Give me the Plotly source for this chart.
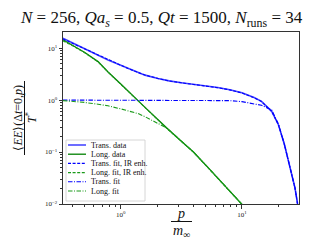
import plotly.graph_objects as go

# ---------------- data ----------------
p_trans = [0.333, 0.398, 0.501, 0.649, 0.785, 1.0, 1.148, 1.39, 1.585, 2.03, 2.51, 3.16,
           3.98, 5.26, 6.31, 7.94, 10.0, 12.6, 14.5, 17.6, 20.0, 22.4, 25.1, 27.4, 28.8]
trans_data = [15.5, 12.6, 9.77, 7.41, 5.89, 4.68, 4.07, 3.39, 3.02, 2.61, 2.34, 2.16,
              2.02, 1.84, 1.74, 1.58, 1.38, 1.12, 0.944, 0.607, 0.336, 0.141, 0.0468, 0.0204, 0.0100]
trans_fit_ir = [15.0, 12.4, 9.70, 7.45, 5.95, 4.70, 4.05, 3.40, 3.03, 2.60, 2.33, 2.15,
                2.01, 1.83, 1.73, 1.57, 1.37, 1.11, 0.940, 0.605, 0.336, 0.141, 0.0468, 0.0204, 0.0100]
trans_fit = [1.0, 1.0, 1.0, 1.0, 1.0, 1.0, 1.0, 1.0, 1.0, 1.0, 1.0, 1.0,
             0.998, 0.995, 0.99, 0.975, 0.933, 0.851, 0.794, 0.646, 0.345, 0.141, 0.0468, 0.0204, 0.0100]

p_long = [0.333, 0.398, 0.501, 0.649, 0.785, 1.0, 1.148, 1.39, 1.585, 2.03, 2.31, 2.51,
          3.16, 3.98, 5.26, 6.31, 7.94, 9.31, 10.0, 11.2]
long_data = [14.5, 11.5, 8.32, 5.50, 3.47, 2.04, 1.48, 0.955, 0.724, 0.417, 0.309, 0.263,
             0.162, 0.100, 0.0501, 0.0316, 0.0178, 0.0120, 0.0100, 0.0074]
long_fit_ir = [13.8, 11.2, 8.20, 5.45, 3.45, 2.03, 1.47, 0.950, 0.720, 0.415, 0.308, 0.262,
               0.161, 0.0995, 0.0500, 0.0315, 0.0178, 0.0120, 0.0100, 0.0074]
long_fit = [0.977, 0.955, 0.902, 0.832, 0.776, 0.676, 0.617, 0.550, 0.479, 0.355, 0.302, 0.263,
            0.162, 0.100, 0.0501, 0.0316, 0.0178, 0.0120, 0.0100, 0.0074]

legend_labels = ["Trans. data", "Long. data", "Trans. fit, IR enh.",
                 "Long. fit, IR enh.", "Trans. fit", "Long. fit"]

x_tickvals = [1, 10]
x_ticktext = ["10<sup>0</sup>", "10<sup>1</sup>"]
y_tickvals = [0.01, 0.1, 1, 10]
y_ticktext = ["10<sup>−2</sup>", "10<sup>−1</sup>", "10<sup>0</sup>", "10<sup>1</sup>"]

title_text = ("<i>N</i> = 256, <i>Qa<sub>s</sub></i> = 0.5, <i>Qt</i> = 1500, "
              "<i>N</i><sub>runs</sub> = 34")

BLUE = "#0000ff"
BLUE_A = "rgba(40,40,255,0.85)"
GREEN = "#008000"
GREEN_L = "#1a9a1a"
DASH = "3px,1.6px"
DASHDOT = "4.5px,1.5px,1px,1.5px"
SERIF = "Liberation Serif"

fig = go.Figure()
series = [
    (p_trans, trans_data, BLUE_A, "solid", 1.6),
    (p_long, long_data, GREEN, "solid", 1.3),
    (p_trans, trans_fit_ir, BLUE, DASH, 1.1),
    (p_long, long_fit_ir, GREEN_L, DASH, 1.1),
    (p_trans, trans_fit, BLUE, DASHDOT, 1.1),
    (p_long, long_fit, GREEN_L, DASHDOT, 1.1),
]
for (xs, ys, col, dash, w), name in zip(series, legend_labels):
    fig.add_trace(go.Scatter(x=xs, y=ys, mode="lines", name=name,
                             line=dict(color=col, dash=dash, width=w),
                             showlegend=False, hoverinfo="skip"))

W, H = 320, 240
L, R, T, B = 55, 291, 24, 196


def px(xp, yp):
    return (xp - L) / (R - L), (B - yp) / (B - T)


shapes = []
annotations = []

# title
cx, cy = px(10, 11)
annotations.append(dict(text=title_text, xref="paper", yref="paper", x=cx, y=cy,
                        xanchor="left", yanchor="middle", showarrow=False,
                        font=dict(family=SERIF, size=17, color="#111")))

# manual legend
x0, y0 = px(58, 132)
x1, y1 = px(137, 193)
shapes.append(dict(type="rect", xref="paper", yref="paper", x0=x0, y0=y1, x1=x1, y1=y0,
                   line=dict(color="#cccccc", width=0.8), fillcolor="rgba(255,255,255,0.85)",
                   layer="above"))
row_y = [137, 146.2, 155.4, 164.6, 173.8, 183]
for (xs, ys, col, dash, w), name, ry in zip(series, legend_labels, row_y):
    a0, b0 = px(60, ry)
    a1, _ = px(78, ry)
    shapes.append(dict(type="line", xref="paper", yref="paper", x0=a0, y0=b0, x1=a1, y1=b0,
                       line=dict(color=col, dash=dash, width=w), layer="above"))
    tx, ty = px(81, ry)
    annotations.append(dict(text=name, xref="paper", yref="paper", x=tx, y=ty,
                            xanchor="left", yanchor="middle", showarrow=False,
                            font=dict(family=SERIF, size=8, color="#111")))

# x-axis label (fraction p / m_inf)
cx, cy = px(173, 205)
annotations.append(dict(text="<i>p</i>", xref="paper", yref="paper", x=cx, y=cy,
                        xanchor="center", yanchor="middle", showarrow=False,
                        font=dict(family=SERIF, size=14, color="#111")))
a0, b0 = px(163, 213.5)
a1, _ = px(184, 213.5)
shapes.append(dict(type="line", xref="paper", yref="paper", x0=a0, y0=b0, x1=a1, y1=b0,
                   line=dict(color="#111", width=1)))
cx, cy = px(173, 223)
annotations.append(dict(text="<i>m</i><sub>∞</sub>", xref="paper", yref="paper", x=cx, y=cy,
                        xanchor="center", yanchor="middle", showarrow=False,
                        font=dict(family=SERIF, size=14, color="#111")))

# y-axis label (fraction, rotated)
cx, cy = px(9.5, 110)
annotations.append(dict(text="⟨<i>EE</i>⟩(Δ<i>t</i>=0,<i>p</i>)", xref="paper", yref="paper",
                        x=cx, y=cy, xanchor="center", yanchor="middle", showarrow=False,
                        textangle=-90, font=dict(family=SERIF, size=12, color="#111")))
a0, b0 = px(16.5, 73)
_, b1 = px(16.5, 147)
shapes.append(dict(type="line", xref="paper", yref="paper", x0=a0, y0=b0, x1=a0, y1=b1,
                   line=dict(color="#111", width=1)))
cx, cy = px(23, 110)
annotations.append(dict(text="<i>T</i><sup>*</sup>", xref="paper", yref="paper",
                        x=cx, y=cy, xanchor="center", yanchor="middle", showarrow=False,
                        textangle=-90, font=dict(family=SERIF, size=12, color="#111")))

x_minor = [0.4, 0.5, 0.6, 0.7, 0.8, 0.9, 2, 3, 4, 5, 6, 7, 8, 9, 20]
y_minor = [0.02, 0.03, 0.04, 0.05, 0.06, 0.07, 0.08, 0.09,
           0.2, 0.3, 0.4, 0.5, 0.6, 0.7, 0.8, 0.9, 2, 3, 4, 5, 6, 7, 8, 9]

axis_common = dict(showgrid=False, zeroline=False, showline=True, linecolor="#333",
                   linewidth=1, mirror=True, ticks="outside", ticklen=3.5, tickwidth=0.8,
                   tickcolor="#333", tickfont=dict(family=SERIF, size=7, color="#222"))

fig.update_layout(
    width=W, height=H,
    margin=dict(l=L, r=W - R, t=T, b=H - B),
    plot_bgcolor="white", paper_bgcolor="white",
    xaxis=dict(type="log", range=[-0.477, 1.471], tickmode="array",
               tickvals=x_tickvals, ticktext=x_ticktext,
               minor=dict(tickmode="array", tickvals=x_minor, ticks="outside", ticklen=2,
                          tickwidth=0.6, tickcolor="#333", showgrid=False),
               **axis_common),
    yaxis=dict(type="log", range=[-2, 1.31], tickmode="array",
               tickvals=y_tickvals, ticktext=y_ticktext,
               minor=dict(tickmode="array", tickvals=y_minor, ticks="outside", ticklen=2,
                          tickwidth=0.6, tickcolor="#333", showgrid=False),
               **axis_common),
    shapes=shapes,
    annotations=annotations,
    showlegend=False,
)

fig.write_html("out.html")
